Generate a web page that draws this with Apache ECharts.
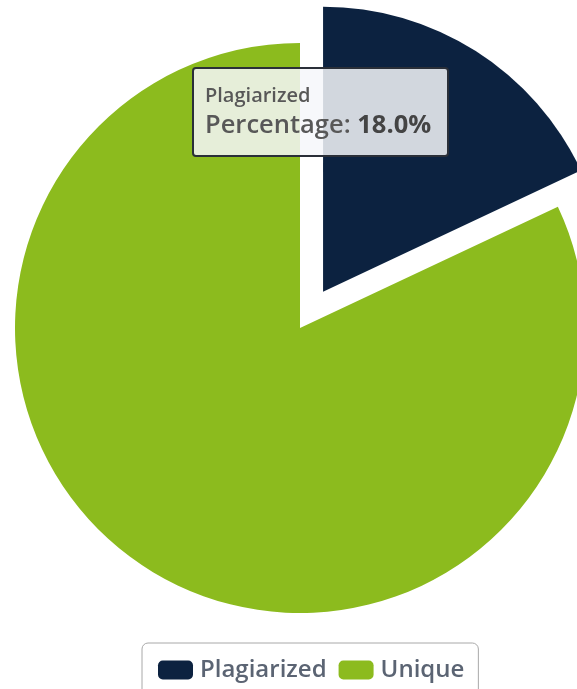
<!DOCTYPE html>
<html>
<head>
<meta charset="utf-8">
<script src="https://cdn.jsdelivr.net/npm/echarts@6/dist/echarts.min.js"></script>
<style>
html,body{margin:0;padding:0;background:#fff;}
#chart{width:577px;height:689px;}
</style>
</head>
<body>
<div id="chart"></div>
<script>
const categories = ['Plagiarized', 'Unique'];
const percentages = [18.0, 82.0];
const colors = ['#0c2240', '#8cbb1e'];

const chart = echarts.init(document.getElementById('chart'), null, {renderer: 'canvas'});
const option = {
  animation: false,
  color: colors,
  tooltip: {
    trigger: 'item',
    triggerOn: 'none',
    alwaysShowContent: true,
    position: [192, 67],
    backgroundColor: 'rgba(246,247,250,0.85)',
    borderColor: '#2a2f38',
    borderWidth: 2,
    borderRadius: 4,
    padding: [13, 10, 15, 11],
    extraCssText: 'box-shadow:none;width:232px;height:58px;',
    formatter: function (p) {
      return '<div style="font-family:\'Open Sans\',sans-serif;color:#585858;">' +
        '<div style="font-size:20px;font-weight:600;line-height:26px;height:26px">' + p.name + '</div>' +
        '<div style="font-size:25.5px;font-weight:600;line-height:31px;white-space:nowrap">Percentage: <b style="color:#444;font-weight:700">' + p.value.toFixed(1) + '%</b></div></div>';
    }
  },
  legend: {
    top: 643,
    left: 142,
    data: categories,
    icon: 'roundRect',
    itemWidth: 35,
    itemHeight: 19,
    itemGap: 12,
    borderColor: '#a8a8a8',
    borderWidth: 1,
    borderRadius: 6,
    padding: [15, 14, 22, 16],
    textStyle: {
      fontFamily: 'Open Sans',
      fontSize: 24,
      fontWeight: 600,
      lineHeight: 20,
      color: '#5b6473',
      padding: [0, 0, 0, 2]
    }
  },
  series: [{
    type: 'pie',
    center: [300, 328],
    radius: 285,
    startAngle: 90,
    clockwise: true,
    selectedMode: 'single',
    selectedOffset: 43,
    label: {show: false},
    labelLine: {show: false},
    emphasis: {scale: false},
    data: categories.map((c, i) => ({name: c, value: percentages[i], selected: i === 0}))
  }]
};
chart.setOption(option);
chart.dispatchAction({type: 'showTip', seriesIndex: 0, dataIndex: 0});
</script>
</body>
</html>
